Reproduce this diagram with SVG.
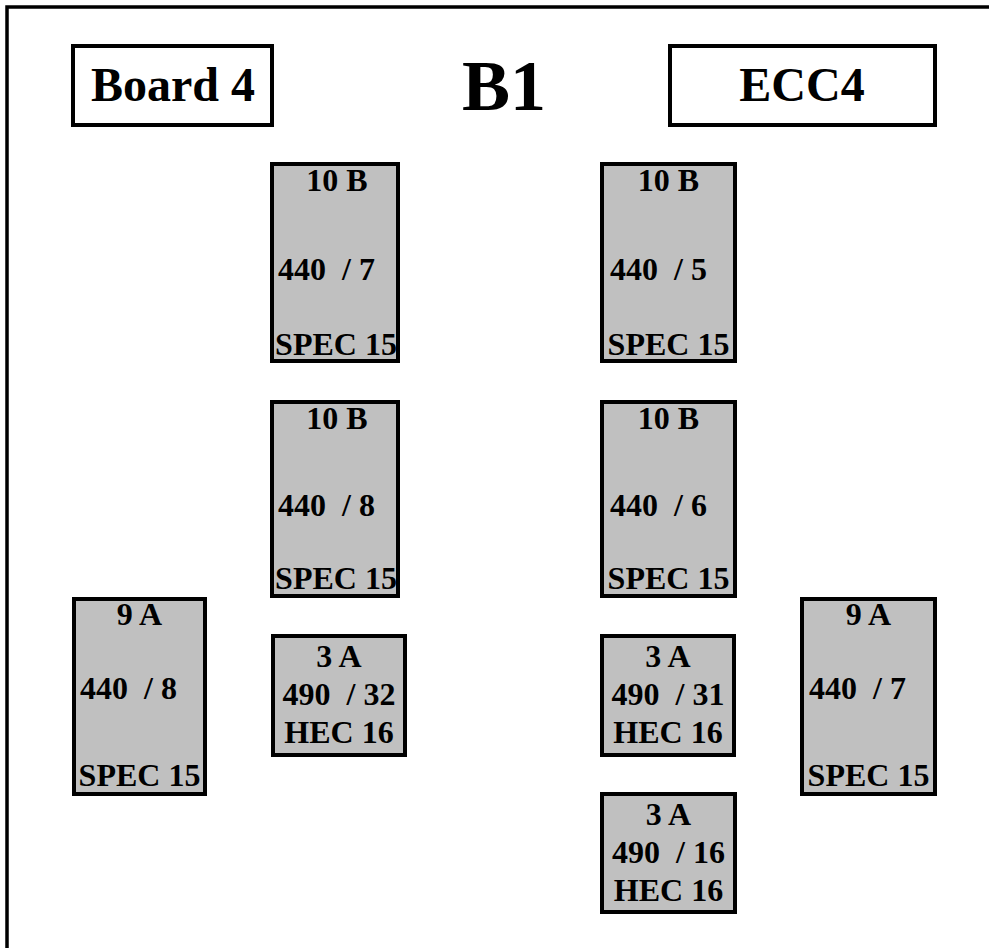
<svg xmlns="http://www.w3.org/2000/svg" width="989" height="948" viewBox="0 0 989 948">
<style>
.frame{fill:none;stroke:#000;stroke-width:3.5}
.title{fill:#fff;stroke:#000;stroke-width:4}
.card{fill:#c0c0c0;stroke:#000;stroke-width:4}
text{font-family:"Liberation Serif","Times New Roman",serif;font-weight:bold;fill:#000;white-space:pre}
.t48{font-size:48px;text-anchor:middle}
.t72{font-size:72px;text-anchor:middle}
.c{font-size:32px;text-anchor:middle}
.l{font-size:32px}
</style>
<rect class="frame" x="7" y="7" width="1000" height="1000"/>
<g id="board4"><rect class="title" x="73" y="46" width="199" height="79"/><text class="t48" x="173" y="101">Board 4</text></g>
<g id="b1"><text class="t72" x="504" y="110">B1</text></g>
<g id="ecc4"><rect class="title" x="670" y="46" width="265" height="79"/><text class="t48" x="802" y="101">ECC4</text></g>
<g id="cardA"><rect class="card" x="272" y="164" width="126" height="197"/><text class="c" x="337" y="191">10 B</text><text class="l" x="278" y="280">440  / 7</text><text class="c" x="336" y="355">SPEC 15</text></g>
<g id="cardB"><rect class="card" x="602" y="164" width="133" height="197"/><text class="c" x="668.5" y="191">10 B</text><text class="l" x="610" y="280">440  / 5</text><text class="c" x="668.5" y="355">SPEC 15</text></g>
<g id="cardC"><rect class="card" x="272" y="402" width="126" height="194"/><text class="c" x="337" y="429">10 B</text><text class="l" x="278" y="516">440  / 8</text><text class="c" x="336" y="589">SPEC 15</text></g>
<g id="cardD"><rect class="card" x="602" y="402" width="133" height="194"/><text class="c" x="668.5" y="429">10 B</text><text class="l" x="610" y="516">440  / 6</text><text class="c" x="668.5" y="589">SPEC 15</text></g>
<g id="cardE"><rect class="card" x="74" y="599" width="131" height="195"/><text class="c" x="139.5" y="625">9 A</text><text class="l" x="80" y="699">440  / 8</text><text class="c" x="139.5" y="786">SPEC 15</text></g>
<g id="cardF"><rect class="card" x="273" y="636" width="132" height="119"/><text class="c" x="339" y="667">3 A</text><text class="c" x="339" y="705">490  / 32</text><text class="c" x="339" y="743">HEC 16</text></g>
<g id="cardG"><rect class="card" x="602" y="636" width="132" height="119"/><text class="c" x="668" y="667">3 A</text><text class="c" x="668" y="705">490  / 31</text><text class="c" x="668" y="743">HEC 16</text></g>
<g id="cardH"><rect class="card" x="802" y="599" width="133" height="195"/><text class="c" x="868.5" y="625">9 A</text><text class="l" x="809" y="699">440  / 7</text><text class="c" x="868.5" y="786">SPEC 15</text></g>
<g id="cardI"><rect class="card" x="602" y="794" width="133" height="118"/><text class="c" x="668.5" y="825">3 A</text><text class="c" x="668.5" y="863">490  / 16</text><text class="c" x="668.5" y="901">HEC 16</text></g>
<g id="connectors"/>
</svg>
